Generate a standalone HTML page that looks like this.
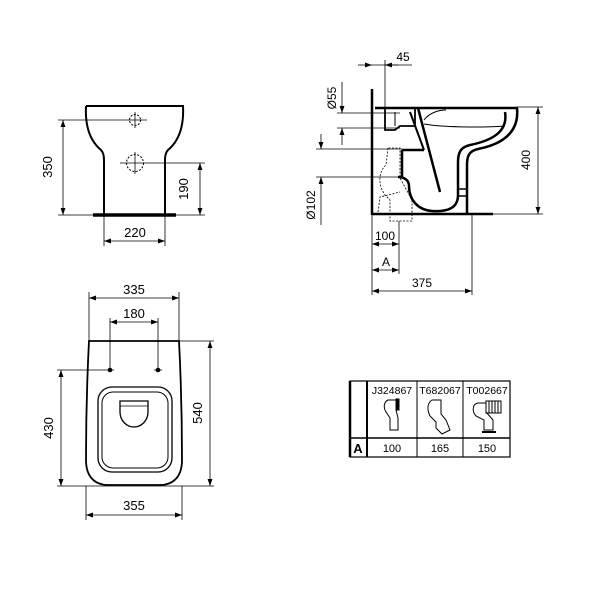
<!DOCTYPE html>
<html><head><meta charset="utf-8"><style>
html,body{margin:0;padding:0;background:#fff;}
svg{display:block;font-family:"Liberation Sans",sans-serif;}
</style></head><body>
<svg width="603" height="603" viewBox="0 0 603 603" xmlns="http://www.w3.org/2000/svg" font-size="12">
<defs>
<marker id="a" viewBox="0 0 10 10" refX="10" refY="5" markerWidth="7" markerHeight="7" orient="auto-start-reverse" markerUnits="userSpaceOnUse"><path d="M0,1.5 L10,5 L0,8.5 z" fill="#000"/></marker>
</defs>
<g fill="none" stroke="#000">
<path d="M86 106 H183 C184 125 180 140 168 150 C166 152 165 155 165 160 V215 M86 106 C85 125 89 140 101 150 C103 152 104 155 104 160 V215" stroke-width="2"/>
<line x1="93" y1="215" x2="176" y2="215" stroke-width="3.5"/>
<circle cx="135" cy="120" r="5.5" stroke-dasharray="2,1.5" stroke-width="1"/>
<circle cx="135" cy="163" r="8.5" stroke-dasharray="2,1.5" stroke-width="1"/>
<g stroke-width="0.8">
<line x1="126" y1="120" x2="147" y2="120"/><line x1="135" y1="112" x2="135" y2="128"/>
<line x1="120" y1="163" x2="205" y2="163"/><line x1="135" y1="152" x2="135" y2="174"/>
<line x1="58" y1="120" x2="126" y2="120"/>
<line x1="58" y1="215" x2="93" y2="215"/><line x1="176" y1="215" x2="205" y2="215"/>
<line x1="63" y1="120" x2="63" y2="215" marker-start="url(#a)" marker-end="url(#a)"/>
<line x1="200" y1="163" x2="200" y2="215" marker-start="url(#a)" marker-end="url(#a)"/>
<line x1="104" y1="215" x2="104" y2="246"/><line x1="165" y1="215" x2="165" y2="246"/>
<line x1="104" y1="241" x2="165" y2="241" marker-start="url(#a)" marker-end="url(#a)"/>
</g>
<line x1="372" y1="89" x2="372" y2="215" stroke-width="2.5"/>
<line x1="372" y1="214" x2="493" y2="214" stroke-width="2.5"/>
<path d="M375 108 H517 C519 128 508 143 478 149 C469 151 467 156 467 165 V214" stroke-width="2.5"/>
<path d="M505 112 C508 130 495 140 470 145 C461 147 458 152 458 162 V195 C458 208 448 212 432 211 C418 210 409 200 409 186 C409 180 404 177 398 177" stroke-width="2.5"/>
<path d="M402 150 H424 M402 150 V177" stroke-width="2.5"/>
<path d="M418 108 L440 192" stroke-width="2.5"/>
<path d="M410 112 L424 150" stroke-width="2"/>
<path d="M385 108 H415 V126 H400 L395 130 H385 Z" stroke-width="1.8"/>
<line x1="395" y1="112" x2="395" y2="126" stroke-width="1"/>
<path d="M424 120 C430 112 440 110 446 110 M424 124 C440 127 480 128 505 126" stroke-width="1"/>
<path d="M458 189 H467 M458 196 H467" stroke-width="1.5"/>
<g stroke-width="0.8" stroke-dasharray="2,1.5">
<path d="M388 148 L386 165 C378 172 378 185 385 195 L390 200 V221 H412 V200 L400 178 V148 Z"/>
<path d="M378 212 L380 197 L400 192"/>
</g>
<g stroke-width="0.8">
<line x1="385" y1="60" x2="385" y2="108"/>
<line x1="358" y1="65" x2="372" y2="65" marker-end="url(#a)"/>
<line x1="398" y1="65" x2="385" y2="65" marker-end="url(#a)"/>
<line x1="372" y1="65" x2="412" y2="65"/>
<line x1="337" y1="113" x2="400" y2="113"/><line x1="337" y1="128" x2="400" y2="128"/>
<line x1="342" y1="82" x2="342" y2="113" marker-end="url(#a)"/>
<line x1="342" y1="145" x2="342" y2="128" marker-end="url(#a)"/>
<line x1="316" y1="149" x2="402" y2="149"/><line x1="316" y1="177" x2="402" y2="177"/>
<line x1="321" y1="134" x2="321" y2="149" marker-end="url(#a)"/>
<line x1="321" y1="225" x2="321" y2="177" marker-end="url(#a)"/>
<line x1="517" y1="107" x2="543" y2="107"/><line x1="493" y1="214" x2="543" y2="214"/>
<line x1="538" y1="107" x2="538" y2="214" marker-start="url(#a)" marker-end="url(#a)"/>
<line x1="372" y1="214" x2="372" y2="295"/>
<line x1="399" y1="221" x2="399" y2="274"/>
<line x1="472" y1="214" x2="472" y2="295"/>
<line x1="372" y1="244" x2="399" y2="244" marker-start="url(#a)" marker-end="url(#a)"/>
<line x1="372" y1="270" x2="399" y2="270" marker-start="url(#a)" marker-end="url(#a)"/>
<line x1="372" y1="291" x2="472" y2="291" marker-start="url(#a)" marker-end="url(#a)"/>
</g>
<path d="M89 341 H179 C181 380 182 430 182 460 C182 478 172 485 160 485 H108 C96 485 86 478 86 460 C86 430 87 380 89 341 Z" stroke-width="1.8"/>
<rect x="98" y="387" width="74" height="85" rx="14" stroke-width="1.3"/>
<rect x="102" y="392" width="66" height="76" rx="11" stroke-width="1"/>
<path d="M120 401 H148 V412 C148 421 141 427 134 427 C127 427 120 421 120 412 Z" stroke-width="1.3"/>
<line x1="120" y1="406" x2="148" y2="406" stroke-width="0.8"/>
<circle cx="110" cy="370" r="2.3" fill="#000" stroke="none"/>
<circle cx="158" cy="370" r="2.3" fill="#000" stroke="none"/>
<g stroke-width="0.8">
<line x1="89" y1="292" x2="89" y2="341"/><line x1="179" y1="292" x2="179" y2="341"/>
<line x1="89" y1="298" x2="179" y2="298" marker-start="url(#a)" marker-end="url(#a)"/>
<line x1="110" y1="318" x2="110" y2="370"/><line x1="158" y1="318" x2="158" y2="370"/>
<line x1="110" y1="322" x2="158" y2="322" marker-start="url(#a)" marker-end="url(#a)"/>
<line x1="179" y1="341" x2="214" y2="341"/>
<line x1="57" y1="370" x2="114" y2="370"/><line x1="154" y1="370" x2="162" y2="370"/>
<line x1="57" y1="486" x2="214" y2="486"/>
<line x1="61" y1="370" x2="61" y2="486" marker-start="url(#a)" marker-end="url(#a)"/>
<line x1="210" y1="341" x2="210" y2="486" marker-start="url(#a)" marker-end="url(#a)"/>
<line x1="86" y1="486" x2="86" y2="520"/><line x1="182" y1="486" x2="182" y2="520"/>
<line x1="86" y1="515" x2="182" y2="515" marker-start="url(#a)" marker-end="url(#a)"/>
</g>
<rect x="350" y="381" width="160" height="76" stroke-width="1.2"/>
<line x1="350" y1="381" x2="350" y2="457" stroke-width="2.5"/>
<line x1="350" y1="438" x2="510" y2="438" stroke-width="1.5"/>
<line x1="367" y1="381" x2="367" y2="457" stroke-width="2"/>
<line x1="417" y1="381" x2="417" y2="457" stroke-width="1"/>
<line x1="463" y1="381" x2="463" y2="457" stroke-width="1"/>
<g stroke-width="1">
<path d="M388 400 C384 402 383 407 386 412 L390 418 V430 H398 V418 L396 410 V400 Z"/>
<rect x="396" y="399" width="3" height="11" fill="#000"/>
<path d="M432 400 C427 403 427 410 430 416 L436 422 L436 428 L442 434 L450 430 L446 420 L441 414 V400 Z"/>
<path d="M478 403 C472 404 472 412 476 416 L484 420 V430 H493 V420 L486 412 V403 Z"/>
<rect x="486" y="401" width="15" height="12" fill="none"/>
<path d="M489 401 V413 M492 401 V413 M495 401 V413 M498 401 V413"/>
<line x1="482" y1="432" x2="496" y2="432" stroke-width="2"/>
</g>
</g>
<g fill="#000">
<text x="52" y="167" text-anchor="middle" transform="rotate(-90 52 167)" font-size="13">350</text>
<text x="188" y="189" text-anchor="middle" transform="rotate(-90 188 189)" font-size="13">190</text>
<text x="135" y="237" text-anchor="middle" font-size="13">220</text>
<text x="403" y="61" text-anchor="middle">45</text>
<text x="336" y="98" text-anchor="middle" transform="rotate(-90 336 98)">Ø55</text>
<text x="315" y="205" text-anchor="middle" transform="rotate(-90 315 205)">Ø102</text>
<text x="530" y="160" text-anchor="middle" transform="rotate(-90 530 160)">400</text>
<text x="385" y="240" text-anchor="middle">100</text>
<text x="386" y="266" text-anchor="middle">A</text>
<text x="422" y="287" text-anchor="middle">375</text>
<text x="134" y="294" text-anchor="middle" font-size="13">335</text>
<text x="134" y="318" text-anchor="middle" font-size="13">180</text>
<text x="53" y="428" text-anchor="middle" transform="rotate(-90 53 428)" font-size="13">430</text>
<text x="202" y="413" text-anchor="middle" transform="rotate(-90 202 413)" font-size="13">540</text>
<text x="134" y="510" text-anchor="middle" font-size="13">355</text>
<text x="392" y="394" text-anchor="middle" font-size="10.5">J324867</text>
<text x="440" y="394" text-anchor="middle" font-size="10.5">T682067</text>
<text x="487" y="394" text-anchor="middle" font-size="10.5">T002667</text>
<text x="358" y="453" text-anchor="middle" font-size="13" font-weight="bold">A</text>
<text x="392" y="452" text-anchor="middle" font-size="11">100</text>
<text x="440" y="452" text-anchor="middle" font-size="11">165</text>
<text x="487" y="452" text-anchor="middle" font-size="11">150</text>
</g>
</svg>
</body></html>
